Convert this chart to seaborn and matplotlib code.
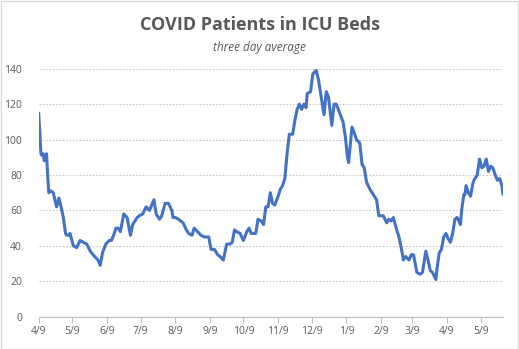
import matplotlib
matplotlib.use("Agg")
import matplotlib.pyplot as plt
import seaborn as sns
import pandas as pd
import numpy as np

start_date = "2020-04-09"

day_offsets = [0, 1, 2, 3, 4, 5, 6, 7, 8, 9, 11, 13, 16, 18, 20, 22, 24, 25, 27, 28,
               31, 34, 37, 40, 43, 46, 50, 53, 55, 57, 60, 63, 65, 67, 69, 71, 73, 76,
               79, 82, 84, 86, 88, 90, 93, 96, 99, 101, 103, 105, 108, 110, 113, 116,
               119, 120, 122, 125, 129, 132, 134, 137, 139, 142, 145, 148, 152, 154,
               157, 160, 162, 165, 168, 171, 173, 175, 177, 180, 183, 186, 188, 190,
               194, 196, 199, 201, 203, 205, 207, 209, 211, 214, 216, 218, 220, 222,
               224, 226, 227, 229, 231, 233, 235, 237, 239, 240, 243, 245, 248, 250,
               253, 255, 257, 259, 262, 264, 266, 269, 272, 274, 276, 277, 280, 282,
               284, 287, 289, 291, 293, 296, 299, 302, 304, 306, 308, 311, 313, 315,
               317, 320, 322, 324, 326, 328, 331, 333, 335, 338, 341, 343, 346, 348,
               350, 352, 355, 356, 358, 360, 362, 364, 366, 368, 370, 372, 374, 377,
               378, 380, 381, 382, 384, 386, 388, 389, 392, 394, 396, 398, 400, 402,
               404, 406, 408, 410, 412, 414, 415]

patients = [115, 104, 92, 91, 92, 88, 91, 92, 80, 70, 71, 70, 62, 67, 62, 56, 47, 46, 46, 47,
            40, 39, 43, 42, 41, 37, 34, 32, 29, 36, 41, 43, 43, 46, 50, 50, 48, 58,
            56, 46, 52, 54, 56, 57, 58, 62, 60, 63, 66, 58, 55, 57, 64, 64,
            60, 56, 56, 55, 53, 49, 47, 46, 50, 48, 46, 45, 45, 38,
            38, 35, 34, 32, 41, 41, 42, 49, 48, 47, 43, 48, 50, 47,
            47, 55, 54, 52, 62, 62, 70, 64, 63, 68, 72, 74, 78, 92,
            103, 103, 103, 111, 117, 120, 117, 120, 118, 126, 127, 137, 139, 134,
            122, 114, 127, 124, 108, 120, 120, 115, 110, 102, 90, 87, 107, 104,
            100, 98, 86, 84, 76, 72, 69, 66, 57, 57, 57, 53, 55, 54,
            56, 49, 45, 39, 32, 34, 32, 35, 35, 25, 24, 25, 37, 32,
            26, 25, 21, 27, 36, 38, 45, 47, 44, 42, 47, 55, 56, 52,
            60, 69, 69, 74, 70, 68, 75, 77, 80, 89, 84, 85, 89, 82,
            85, 84, 80, 77, 78, 74, 69]

tick_dates = ["2020-04-09", "2020-05-09", "2020-06-09", "2020-07-09", "2020-08-09",
              "2020-09-09", "2020-10-09", "2020-11-09", "2020-12-09", "2021-01-09",
              "2021-02-09", "2021-03-09", "2021-04-09", "2021-05-09"]
tick_labels = ["4/9", "5/9", "6/9", "7/9", "8/9", "9/9", "10/9", "11/9", "12/9",
               "1/9", "2/9", "3/9", "4/9", "5/9"]
y_ticks = [0, 20, 40, 60, 80, 100, 120, 140]

title = "COVID Patients in ICU Beds"
subtitle = "three day average"

sns.set_style("white")
plt.rcParams["font.family"] = ["Open Sans", "DejaVu Sans"]

base = pd.Timestamp(start_date)
df = pd.DataFrame({
    "date": [base + pd.Timedelta(days=d) for d in day_offsets],
    "patients": patients,
})

fig = plt.figure(figsize=(5.19, 3.49), dpi=100)
ax = fig.add_axes([38.7 / 519, 1 - 316.7 / 349, (503 - 38.7) / 519, (316.7 - 68.7) / 349])

sns.lineplot(data=df, x="date", y="patients", ax=ax, color="#4472C4", linewidth=2.2)

ax.set_ylim(0, 140)
ax.set_xlim(base, base + pd.Timedelta(days=415))
ax.set_yticks(y_ticks)
ax.set_xticks(pd.to_datetime(tick_dates))
ax.set_xticklabels(tick_labels)
ax.set_xlabel("")
ax.set_ylabel("")

grey_txt = "#595959"
ax.tick_params(axis="y", length=0, pad=12, labelsize=7.5, labelcolor=grey_txt)
ax.tick_params(axis="x", length=4, width=0.8, color="#bfbfbf", pad=3,
               labelsize=7.5, labelcolor=grey_txt, direction="out", bottom=True)
for lab in ax.get_yticklabels():
    lab.set_horizontalalignment("right")

ax.grid(axis="y", color="#c8c8c8", linestyle=(0, (1.5, 1.5)), linewidth=0.8)
ax.grid(axis="x", visible=False)
ax.set_axisbelow(True)
for s in ["left", "right", "top"]:
    ax.spines[s].set_visible(False)
ax.spines["bottom"].set_color("#bfbfbf")
ax.spines["bottom"].set_linewidth(0.8)

fig.text(0.5, 1 - 25 / 349, title, ha="center", va="center", fontsize=13,
         fontweight="bold", color=grey_txt)
fig.text(0.5, 1 - 47 / 349, subtitle, ha="center", va="center", fontsize=8.5,
         fontstyle="italic", color=grey_txt)

border = plt.Rectangle((0.001, 0.001), 0.997, 0.996, transform=fig.transFigure,
                       fill=False, edgecolor="#d9d9d9", linewidth=1)
fig.patches.append(border)

fig.savefig("out.png", dpi=100)
